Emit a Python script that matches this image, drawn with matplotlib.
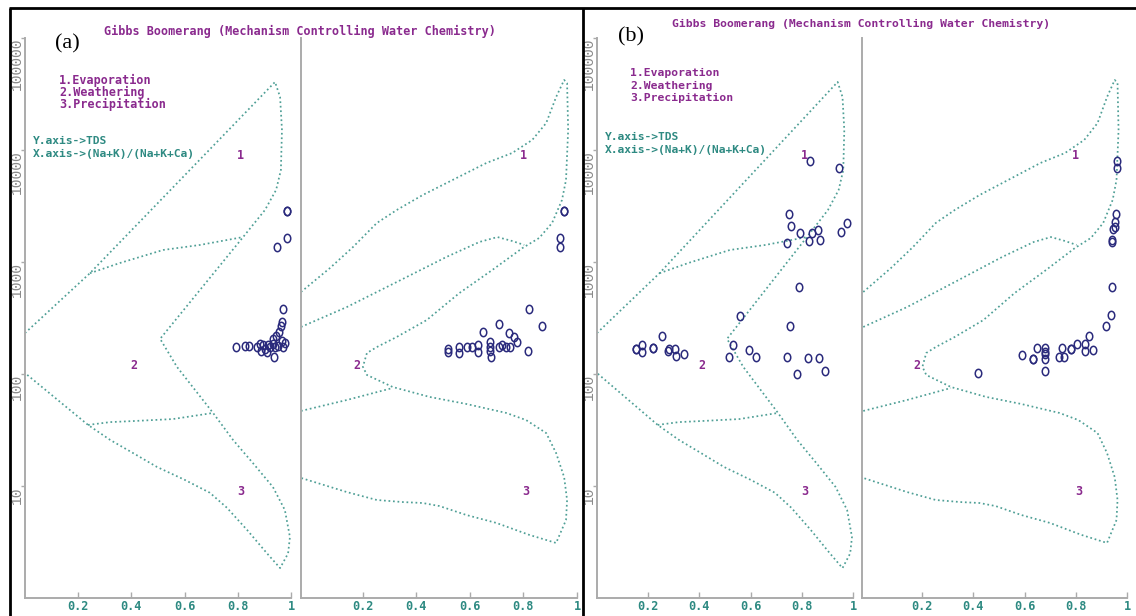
import matplotlib
matplotlib.use('Agg')
import matplotlib.pyplot as plt
from matplotlib.lines import Line2D
from matplotlib.path import Path
from matplotlib.ticker import NullLocator, NullFormatter
import matplotlib.transforms as mtransforms

W, H = 1136, 616

# ---------------- data ----------------
# Gibbs boundary, TDS vs (Na+K)/(Na+K+Ca)
na_outer_x = [0.0, 0.244, 0.94, 0.959, 0.966, 0.962, 0.944, 0.902, 0.820, 0.508, 0.571, 0.707,
              0.782, 0.857, 0.932, 0.977, 0.996, 0.989, 0.959, 0.910, 0.835, 0.759, 0.695,
              0.602, 0.496, 0.406, 0.320, 0.237, 0.0]
na_outer_tds = [232, 794, 40500, 29700, 15100, 6620, 4400, 2910, 1670, 206, 116, 44.9,
                25.8, 16.0, 9.8, 6.1, 3.5, 2.5, 1.85, 2.5, 4.05, 6.4, 8.7,
                11.3, 14.8, 19.7, 25.8, 35.1, 102]
na_inner_up_x = [0.244, 0.357, 0.519, 0.658, 0.820]
na_inner_up_tds = [794, 980, 1280, 1420, 1670]
na_inner_lo_x = [0.237, 0.320, 0.406, 0.556, 0.707]
na_inner_lo_tds = [35.1, 37.2, 38.0, 39.6, 44.9]

# Gibbs boundary, TDS vs Cl/(Cl+HCO3)
cl_outer_x = [-0.03, 0.078, 0.164, 0.253, 0.327, 0.424, 0.513, 0.662, 0.758, 0.833, 0.885,
              0.922, 0.952, 0.963, 0.967, 0.959, 0.944, 0.907, 0.859, 0.796, 0.684, 0.561,
              0.439, 0.327, 0.253, 0.216, 0.201, 0.216, 0.312, 0.450, 0.587, 0.736, 0.810,
              0.885, 0.922, 0.952, 0.963, 0.959, 0.922, 0.822, 0.699, 0.587, 0.487, 0.424,
              0.349, 0.253, 0.141, -0.03]
cl_outer_tds = [540, 883, 1360, 2230, 2910, 3960, 5070, 7660, 9400, 12300, 17400,
                29700, 42200, 39600, 15100, 5400, 3580, 2230, 1640, 1330, 849, 528,
                303, 214, 174, 154, 116, 98, 76.6, 62.4, 54.0, 44.9, 38.8,
                29.7, 19.7, 12.0, 7.5, 4.97, 3.10, 3.66, 4.68, 5.51, 6.62, 7.05,
                7.19, 7.50, 8.83, 11.8]
cl_inner_up_x = [-0.03, 0.141, 0.327, 0.513, 0.636, 0.703, 0.758, 0.803]
cl_inner_up_tds = [263, 396, 662, 1110, 1510, 1670, 1540, 1420]
cl_inner_lo_x = [-0.03, 0.141, 0.312]
cl_inner_lo_tds = [46.8, 58.6, 75.0]

# Samples, panel (a)
a_na_x = [0.985, 0.985, 0.985, 0.947, 0.970, 0.966, 0.962, 0.955, 0.944, 0.932, 0.793, 0.827,
          0.842, 0.872, 0.883, 0.895, 0.902, 0.910, 0.921, 0.932, 0.940, 0.951, 0.970, 0.966,
          0.936, 0.914, 0.887, 0.977]
a_na_tds = [2850, 2850, 1640, 1360, 380, 291, 269, 237, 218, 205, 174, 178,
            178, 174, 185, 180, 167, 157, 174, 185, 174, 178, 174, 197,
            142, 180, 160, 190]
a_cl_x = [0.952, 0.952, 0.937, 0.937, 0.822, 0.870, 0.710, 0.651, 0.747, 0.766, 0.520, 0.520,
          0.561, 0.561, 0.591, 0.610, 0.632, 0.632, 0.677, 0.677, 0.677, 0.680, 0.710, 0.721,
          0.751, 0.777, 0.818, 0.736]
a_cl_tds = [2850, 2850, 1640, 1360, 380, 268, 279, 237, 232, 214, 157, 167,
            174, 154, 174, 174, 180, 157, 193, 174, 161, 142, 174, 180,
            174, 193, 161, 176]

# Samples, panel (b)
b_na_x = [0.832, 0.945, 0.750, 0.758, 0.793, 0.742, 0.828, 0.840, 0.863, 0.870, 0.953, 0.977,
          0.790, 0.558, 0.754, 0.254, 0.152, 0.152, 0.176, 0.176, 0.219, 0.219, 0.277, 0.281,
          0.305, 0.308, 0.340, 0.531, 0.516, 0.594, 0.620, 0.742, 0.781, 0.824, 0.867, 0.890]
b_na_tds = [7900, 6900, 2690, 2100, 1820, 1480, 1540, 1800, 1940, 1580, 1850, 2220,
            600, 330, 268, 218, 167, 167, 181, 157, 170, 170, 160, 167,
            167, 145, 150, 181, 143, 163, 143, 143, 100, 139, 139, 106]
b_cl_x = [0.960, 0.960, 0.956, 0.953, 0.953, 0.946, 0.940, 0.940, 0.942, 0.938, 0.918, 0.850,
          0.837, 0.805, 0.867, 0.837, 0.782, 0.782, 0.748, 0.755, 0.735, 0.680, 0.680, 0.680,
          0.680, 0.680, 0.650, 0.634, 0.634, 0.590, 0.420]
b_cl_tds = [7900, 6900, 2690, 2290, 2070, 1960, 1580, 1500, 600, 335, 268, 218,
            185, 185, 163, 160, 167, 167, 170, 143, 143, 170, 157, 150,
            137, 106, 170, 135, 135, 148, 102]

xtick_vals = [0.2, 0.4, 0.6, 0.8, 1.0]
xtick_labels = ['0.2', '0.4', '0.6', '0.8', '1']
ytick_vals = [10, 100, 1000, 10000, 100000]
ytick_labels = ['10', '100', '1000', '10000', '100000']

title_text = 'Gibbs Boomerang (Mechanism Controlling Water Chemistry)'
legend_lines = ['1.Evaporation', '2.Weathering', '3.Precipitation']
axis_lines = ['Y.axis->TDS', 'X.axis->(Na+K)/(Na+K+Ca)']
zone_labels = ['1', '2', '3']
zone_x = [0.81, 0.41, 0.81]
zone_tds = [9000, 118, 9.0]
zone_x_cl = [0.80, 0.18, 0.81]

# ---------------- style ----------------
PURPLE = '#8a2a8e'
TEAL = '#2e8a82'
CURVE = '#4f9f96'
MARK = '#2a2a7c'
SPINE = '#ababab'
MONO = 'DejaVu Sans Mono'

# slightly tall open-ellipse marker, like the original software's "o"
circ = Path.unit_circle()
OVAL = Path(mtransforms.Affine2D().scale(0.78, 1.0).transform(circ.vertices), circ.codes)

fig = plt.figure(figsize=(W / 100, H / 100), dpi=100)
fig.patch.set_facecolor('white')


def fx(px):
    return px / W


def fy(py):
    return 1 - py / H


TOP_PX, BOT_PX = 38, 598


def make_ax(lpx, rpx, xmin, left_labels):
    ax = fig.add_axes([fx(lpx), fy(BOT_PX), (rpx - lpx) / W, (BOT_PX - TOP_PX) / H])
    ax.set_facecolor('none')
    ax.set_xlim(xmin, 1.0)
    ax.set_yscale('log')
    ax.set_ylim(1, 1e5)
    ax.yaxis.set_minor_locator(NullLocator())
    ax.yaxis.set_minor_formatter(NullFormatter())
    for s in ('top', 'right'):
        ax.spines[s].set_visible(False)
    for s in ('left', 'bottom'):
        ax.spines[s].set_color(SPINE)
        ax.spines[s].set_linewidth(1.4)
    ax.set_xticks(xtick_vals)
    ax.set_xticklabels(xtick_labels)
    ax.tick_params(axis='x', direction='in', length=4, width=1.0, color=SPINE,
                   labelcolor=TEAL, labelsize=8.6, pad=1.5)
    for lab in ax.get_xticklabels():
        lab.set_fontfamily(MONO)
        lab.set_fontweight('bold')
    if left_labels:
        ax.set_yticks(ytick_vals)
        ax.set_yticklabels([])
        ax.tick_params(axis='y', direction='out', length=3, width=1.0, color=SPINE)
        trans = mtransforms.blended_transform_factory(ax.transAxes, ax.transData)
        off = mtransforms.ScaledTranslation(-8 / 100, 0, fig.dpi_scale_trans)
        for v, lab in zip(ytick_vals, ytick_labels):
            ax.text(0, v, lab, transform=trans + off, rotation=90, ha='center', va='top',
                    fontsize=10.5, color='#8a8a8a', family='Liberation Mono')
    else:
        ax.set_yticks([])
        ax.tick_params(axis='y', left=False, labelleft=False)
    return ax


dotted = dict(color=CURVE, lw=1.25, linestyle=(0, (1, 1.6)))


def draw_diagram(ax, bx, by, zx, xs, ys):
    for xx, yy in zip(bx, by):
        ax.plot(xx, yy, **dotted)
    for lab, x, y in zip(zone_labels, zx, zone_tds):
        ax.text(x, y, lab, color=PURPLE, family=MONO, fontweight='bold', fontsize=8.5,
                ha='center', va='center')
    ax.plot(xs, ys, linestyle='none', marker=OVAL, mfc='none', mec=MARK, ms=6.0, mew=1.1,
            clip_on=False)


na_curves = ([na_outer_x, na_inner_up_x, na_inner_lo_x],
             [na_outer_tds, na_inner_up_tds, na_inner_lo_tds])
cl_curves = ([cl_outer_x, cl_inner_up_x, cl_inner_lo_x],
             [cl_outer_tds, cl_inner_up_tds, cl_inner_lo_tds])

ax_a1 = make_ax(25, 291, 0.0, True)
ax_a2 = make_ax(301, 577, -0.03, False)
ax_b1 = make_ax(597, 853, 0.0, True)
ax_b2 = make_ax(862, 1127, -0.035, False)

draw_diagram(ax_a1, *na_curves, zone_x, a_na_x, a_na_tds)
draw_diagram(ax_a2, *cl_curves, zone_x_cl, a_cl_x, a_cl_tds)
draw_diagram(ax_b1, *na_curves, zone_x, b_na_x, b_na_tds)
draw_diagram(ax_b2, *cl_curves, zone_x_cl, b_cl_x, b_cl_tds)


# ---------------- texts ----------------
def ftext(px, py, s, **kw):
    fig.text(fx(px), fy(py), s, **kw)


ftext(300, 31, title_text, color=PURPLE, family=MONO, fontweight='bold', fontsize=8.5,
      ha='center', va='center')
ftext(861, 24, title_text, color=PURPLE, family=MONO, fontweight='bold', fontsize=8.2,
      ha='center', va='center')

ftext(67, 44, '(a)', family='Liberation Serif', fontsize=16, ha='center', va='center',
      color='black')
ftext(631, 37, '(b)', family='Liberation Serif', fontsize=16, ha='center', va='center',
      color='black')

for i, s in enumerate(legend_lines):
    ftext(59, 80 + 12 * i, s, color=PURPLE, family=MONO, fontweight='bold', fontsize=8.5,
          ha='left', va='center')
    ftext(630, 73 + 12.5 * i, s, color=PURPLE, family=MONO, fontweight='bold', fontsize=8.2,
          ha='left', va='center')

for i, s in enumerate(axis_lines):
    ftext(33, 141 + 12.5 * i, s, color=TEAL, family=MONO, fontweight='bold', fontsize=8.1,
          ha='left', va='center')
    ftext(605, 137 + 13 * i, s, color=TEAL, family=MONO, fontweight='bold', fontsize=8.1,
          ha='left', va='center')


# ---------------- frame lines ----------------
def fline(xs, ys, lw=2.0):
    fig.add_artist(Line2D([fx(x) for x in xs], [fy(y) for y in ys], color='black', lw=lw,
                          transform=fig.transFigure, solid_capstyle='butt'))


fline([9, 1136], [8, 8])
fline([10, 10], [8, 616])
fline([582.5, 582.5], [8, 616])

fig.savefig('out.png', dpi=100, facecolor='white')
